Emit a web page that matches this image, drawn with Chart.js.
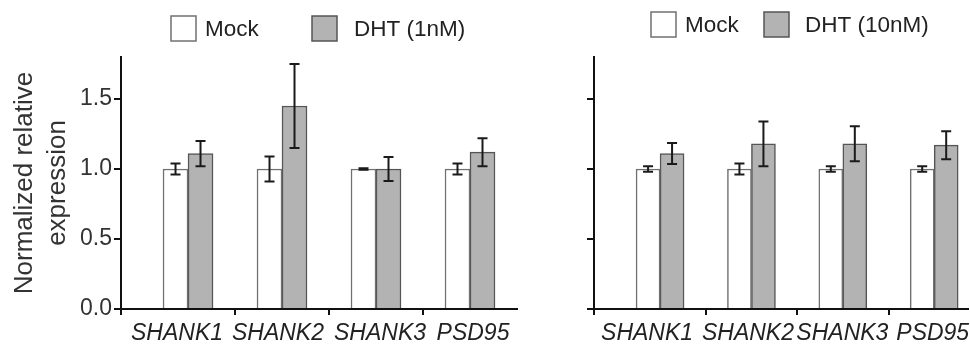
<!DOCTYPE html>
<html>
<head>
<meta charset="utf-8">
<script src="https://cdn.jsdelivr.net/npm/chart.js@4.4.1/dist/chart.umd.min.js"></script>
<style>
  html, body { margin: 0; padding: 0; background: #fff; overflow: hidden; }
  .panel { position: absolute; top: 0; height: 344px; }
  #left { left: 0; width: 530px; }
  #right { left: 530px; width: 440px; }
</style>
</head>
<body>
<div class="panel" id="left"><canvas id="chart-1nm"></canvas></div>
<div class="panel" id="right"><canvas id="chart-10nm"></canvas></div>
<script>
const categories = ["SHANK1", "SHANK2", "SHANK3", "PSD95"];
const yTicks = [0, 0.5, 1.0, 1.5];

// DHT 1 nM
const mock1 = [1.0, 1.0, 1.0, 1.0];
const mockErr1 = [0.04, 0.09, 0.005, 0.04];
const dht1 = [1.11, 1.45, 1.0, 1.12];
const dhtErr1 = [0.09, 0.3, 0.085, 0.1];

// DHT 10 nM
const mock10 = [1.0, 1.0, 1.0, 1.0];
const mockErr10 = [0.02, 0.04, 0.02, 0.02];
const dht10 = [1.11, 1.18, 1.18, 1.17];
const dhtErr10 = [0.075, 0.16, 0.125, 0.1];

const FONT = "'Liberation Sans', Arial, Helvetica, sans-serif";
Chart.defaults.font.family = FONT;
Chart.defaults.color = "#222";

const errorBars = {
  id: "errorBars",
  afterDatasetsDraw(chart) {
    const y = chart.scales.y;
    const ctx = chart.ctx;
    ctx.save();
    ctx.strokeStyle = "#1a1a1a";
    ctx.lineWidth = 2;
    chart.data.datasets.forEach((ds, i) => {
      chart.getDatasetMeta(i).data.forEach((bar, j) => {
        const v = ds.data[j].y;
        const e = ds.errors[j];
        const top = y.getPixelForValue(v + e);
        const bot = y.getPixelForValue(v - e);
        ctx.beginPath();
        ctx.moveTo(bar.x, top);
        ctx.lineTo(bar.x, bot);
        ctx.moveTo(bar.x - 5, top);
        ctx.lineTo(bar.x + 5, top);
        ctx.moveTo(bar.x - 5, bot);
        ctx.lineTo(bar.x + 5, bot);
        ctx.stroke();
      });
    });
    ctx.restore();
  },
};

// legend boxes above each panel
const boxLegend = {
  id: "boxLegend",
  afterDraw(chart, args, opts) {
    const ctx = chart.ctx;
    ctx.save();
    ctx.font = "22.5px " + FONT;
    ctx.textBaseline = "middle";
    chart.data.datasets.forEach((ds, i) => {
      const it = opts.items[i];
      ctx.fillStyle = ds.backgroundColor;
      ctx.fillRect(it.box, opts.top, opts.size, opts.size);
      ctx.lineWidth = 1.5;
      ctx.strokeStyle = ds.borderColor;
      ctx.strokeRect(it.box, opts.top, opts.size, opts.size);
      ctx.fillStyle = "#222";
      ctx.fillText(ds.label, it.text, opts.top + opts.size / 2 + 1);
    });
    ctx.restore();
  },
};

function points(values) {
  return values.map((v, i) => ({ x: i + 1, y: v }));
}

function makeChart(id, p) {
  return new Chart(document.getElementById(id), {
    type: "bar",
    data: {
      datasets: [
        {
          label: "Mock",
          data: points(p.mock),
          errors: p.mockErr,
          backgroundColor: "#ffffff",
          borderColor: "#707070",
          borderWidth: 1.5,
          barThickness: p.bar,
        },
        {
          label: p.dhtLabel,
          data: points(p.dht),
          errors: p.dhtErr,
          backgroundColor: "#b3b3b3",
          borderColor: "#555555",
          borderWidth: 1.5,
          barThickness: p.bar,
        },
      ],
    },
    options: {
      responsive: true,
      maintainAspectRatio: false,
      animation: false,
      layout: { padding: { top: 57, right: p.padRight, bottom: 0, left: 0 } },
      plugins: {
        legend: { display: false },
        tooltip: { enabled: false },
        boxLegend: { top: p.legendTop, size: 25, items: p.legendItems },
      },
      scales: {
        x: {
          type: "linear",
          min: p.xMin,
          max: p.xMax,
          offset: false,
          z: 1,
          grid: {
            offset: false,
            drawOnChartArea: false,
            tickLength: 6,
            lineWidth: 2,
            // marks only at the axis origin and between groups
            color: (c) => (c.tick && c.tick.label ? "rgba(0,0,0,0)" : "#111"),
          },
          border: { color: "#111", width: 2 },
          afterBuildTicks: (s) => {
            const ticks = [{ value: s.min }];
            categories.forEach((c, i) => {
              if (i) ticks.push({ value: i + 0.5 });
              ticks.push({ value: i + 1 + p.labelNudge[i], label: true });
            });
            s.ticks = ticks;
          },
          ticks: {
            autoSkip: false,
            maxRotation: 0,
            padding: 5,
            color: "#222",
            font: { size: 23, style: "italic" },
            callback: (v, i, ticks) => (ticks[i].label ? categories[Math.round(v) - 1] : ""),
          },
          afterFit: (s) => {
            s.height = 35;
            s.paddingLeft = 0;
            s.paddingRight = 0;
          },
        },
        y: {
          min: 0,
          max: 1.8,
          z: 1,
          grid: { drawOnChartArea: false, tickLength: 7, lineWidth: 2, color: "#111" },
          border: { color: "#111", width: 2 },
          afterBuildTicks: (s) => {
            s.ticks = yTicks.map((value) => ({ value }));
          },
          ticks: {
            display: p.showYLabels,
            padding: 2,
            color: "#333",
            font: { size: 23 },
            callback: (v) => v.toFixed(1),
          },
          title: {
            display: p.showYLabels,
            text: ["Normalized relative", "expression"],
            color: "#333",
            font: { size: 26, lineHeight: 1.27 },
            padding: { top: 8, bottom: 0 },
          },
          afterFit: (s) => {
            s.width = p.yWidth;
          },
        },
      },
    },
    plugins: [errorBars, boxLegend],
  });
}

makeChart("chart-1nm", {
  mock: mock1,
  mockErr: mockErr1,
  dht: dht1,
  dhtErr: dhtErr1,
  dhtLabel: "DHT (1nM)",
  xMin: 0.287,
  xMax: 4.5,
  yWidth: 121,
  padRight: 13,
  bar: 25,
  labelNudge: [-0.117, -0.043, 0.043, 0.032],
  showYLabels: true,
  legendTop: 16,
  legendItems: [{ box: 171, text: 205 }, { box: 312, text: 354 }],
});

makeChart("chart-10nm", {
  mock: mock10,
  mockErr: mockErr10,
  dht: dht10,
  dhtErr: dhtErr10,
  dhtLabel: "DHT (10nM)",
  xMin: 0.277,
  xMax: 4.37,
  yWidth: 64,
  padRight: 2,
  bar: 24,
  labelNudge: [-0.142, -0.038, -0.005, -0.016],
  showYLabels: false,
  legendTop: 12,
  legendItems: [{ box: 121, text: 155 }, { box: 234, text: 275 }],
});
</script>
</body>
</html>
